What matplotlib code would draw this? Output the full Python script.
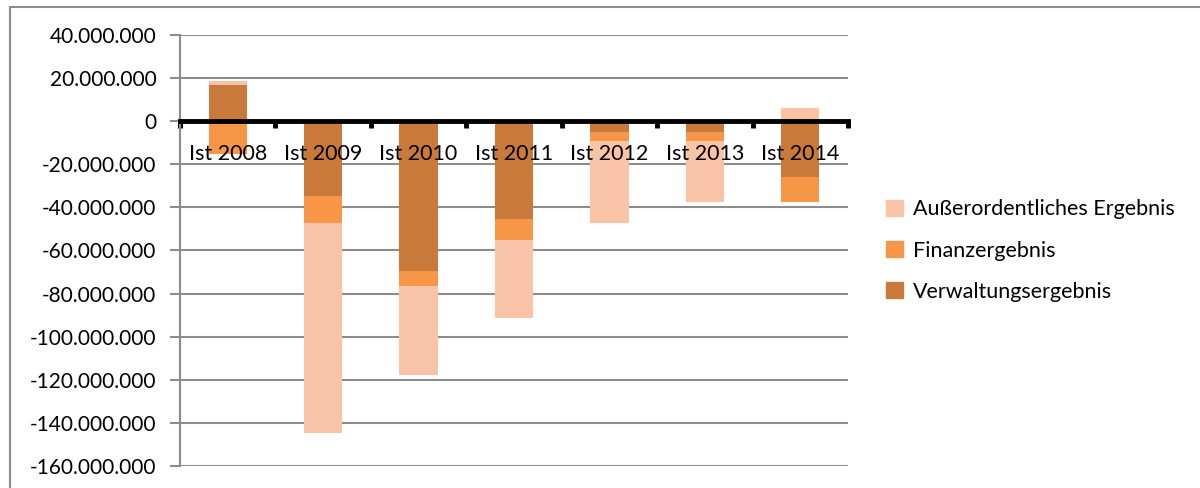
import numpy as np
import matplotlib
matplotlib.use("Agg")
from matplotlib import pyplot as plt
from matplotlib.patches import Rectangle, Patch
from matplotlib.ticker import FuncFormatter

# values in Mio EUR
years = ["Ist 2008", "Ist 2009", "Ist 2010", "Ist 2011", "Ist 2012", "Ist 2013", "Ist 2014"]
verwaltung = [16.6, -34.9, -69.3, -45.2, -4.9, -4.9, -25.8]
finanz = [-15.4, -12.2, -7.2, -9.8, -4.3, -4.3, -11.8]
ausserordentlich = [2.0, -97.7, -41.4, -36.2, -38.1, -28.4, 6.0]

series = [
    ("Verwaltungsergebnis", verwaltung, "#C97A3A"),
    ("Finanzergebnis", finanz, "#F79646"),
    ("Außerordentliches Ergebnis", ausserordentlich, "#F9C3A7"),
]

plt.rcParams["font.family"] = ["Lato", "DejaVu Sans"]

fig = plt.figure(figsize=(12, 4.88), dpi=100)
ax = fig.add_axes([0.15, 0.0451, 0.5567, 0.8832])

x = np.arange(len(years))
pos_base = np.zeros(len(years))
neg_base = np.zeros(len(years))
handles = []
for name, vals, col in series:
    v = np.array(vals) * 1e6
    bottom = np.where(v >= 0, pos_base, neg_base)
    ax.bar(x, v, 0.4, bottom=bottom, color=col, zorder=2)
    pos_base += np.where(v >= 0, v, 0)
    neg_base += np.where(v < 0, v, 0)
    handles.append(Patch(color=col, label=name))

ax.set_xlim(-0.5, 6.5)
ax.set_ylim(-160e6, 40e6)
ax.set_yticks(np.arange(-160e6, 40e6 + 1, 20e6))
ax.yaxis.set_major_formatter(FuncFormatter(lambda v, p: f"{int(round(v)):,}".replace(",", ".")))
ax.grid(axis="y", color="#8c8c8c", lw=1.5, zorder=0)
ax.tick_params(axis="y", length=7, width=1.5, color="#8c8c8c", labelsize=15, pad=10)

# category axis sits on zero
for s in ["top", "right"]:
    ax.spines[s].set_visible(False)
ax.spines["left"].set_color("#8c8c8c")
ax.spines["left"].set_linewidth(1.5)
ax.spines["bottom"].set_position(("data", 0))
ax.spines["bottom"].set_linewidth(3.5)
ax.spines["bottom"].set_zorder(5)
ax.set_xticks(np.arange(-0.5, 7, 1))
ax.set_xticklabels([])
ax.tick_params(axis="x", which="major", length=5, width=3.5, color="black")

# category names drawn over the bars
for i, name in enumerate(years):
    ax.annotate(name, xy=(i, 0), xytext=(0, -23), textcoords="offset pixels",
                ha="center", va="top", fontsize=15.5, zorder=10, annotation_clip=False)

fig.legend(handles=handles[::-1], loc="upper left", bbox_to_anchor=(0.722, 0.631),
           frameon=False, fontsize=15.5, handlelength=0.8, handleheight=0.8,
           handletextpad=0.45, labelspacing=0.98)

fig.patches.append(Rectangle((10 / 1200, -0.1), 1.2, 1.1 - 7 / 488, transform=fig.transFigure,
                             fill=False, edgecolor="#8c8c8c", lw=1.5))

fig.savefig("out.png", dpi=100)
